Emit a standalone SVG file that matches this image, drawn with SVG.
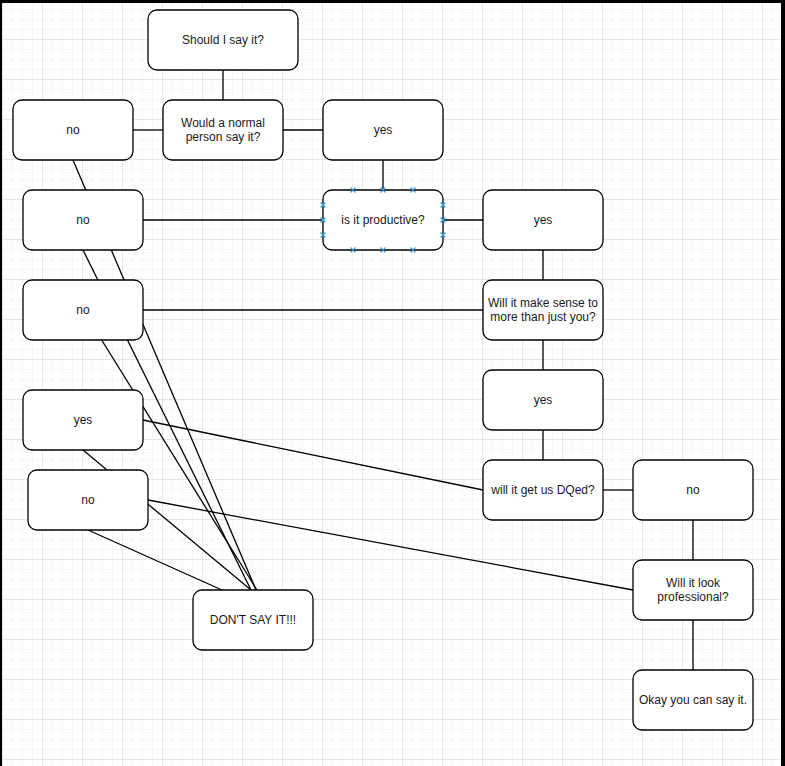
<svg xmlns="http://www.w3.org/2000/svg" width="785" height="766" viewBox="0 0 785 766">
<defs>
<pattern id="grid" x="2" y="39" width="40" height="40" patternUnits="userSpaceOnUse">
<path d="M10.5 0V40M20.5 0V40M30.5 0V40M0 10.5H40M0 20.5H40M0 30.5H40" stroke="#f6f6f6" stroke-width="1" fill="none"/>
<path d="M0.5 0V40M0 0.5H40" stroke="#e6e6e6" stroke-width="1" fill="none"/>
</pattern>
<style>
.n rect{fill:#fff;stroke:#000;stroke-width:1.3}
.n text{font-family:"Liberation Sans",Arial,sans-serif;font-size:12px;fill:#1a1a1a;text-anchor:middle}
.e line{stroke:#000;stroke-width:1.3}
.hx path{stroke:#3aa0dc;stroke-width:1.2;fill:none}
</style>
</defs>
<rect x="0" y="0" width="785" height="766" fill="#fff"/>
<rect x="0" y="0" width="785" height="766" fill="url(#grid)"/>
<g id="connectors" class="e">
<line x1="223" y1="70" x2="223" y2="100"/>
<line x1="133" y1="130" x2="163" y2="130"/>
<line x1="283" y1="130" x2="323" y2="130"/>
<line x1="383" y1="160" x2="383" y2="190"/>
<line x1="143" y1="220" x2="323" y2="220"/>
<line x1="443" y1="220" x2="483" y2="220"/>
<line x1="543" y1="250" x2="543" y2="280"/>
<line x1="143" y1="310" x2="483" y2="310"/>
<line x1="543" y1="340" x2="543" y2="370"/>
<line x1="543" y1="430" x2="543" y2="460"/>
<line x1="603" y1="490" x2="633" y2="490"/>
<line x1="693" y1="520" x2="693" y2="560"/>
<line x1="693" y1="620" x2="693" y2="670"/>
<line x1="143" y1="420" x2="483" y2="490"/>
<line x1="148" y1="500" x2="633" y2="590"/>
<line x1="73" y1="160" x2="256" y2="590"/>
<line x1="83" y1="250" x2="251" y2="590"/>
<line x1="83" y1="310" x2="257" y2="590"/>
<line x1="83" y1="450" x2="251" y2="590"/>
<line x1="88" y1="530" x2="222" y2="590"/>
</g>
<g id="n-should" class="n"><rect x="148" y="10" width="150" height="60" rx="9"/><text x="223" y="44">Should I say it?</text></g>
<g id="n-no1" class="n"><rect x="13" y="100" width="120" height="60" rx="9"/><text x="73" y="134">no</text></g>
<g id="n-normal" class="n"><rect x="163" y="100" width="120" height="60" rx="9"/><text x="223" y="127">Would a normal</text><text x="223" y="141">person say it?</text></g>
<g id="n-yes1" class="n"><rect x="323" y="100" width="120" height="60" rx="9"/><text x="383" y="134">yes</text></g>
<g id="n-no2" class="n"><rect x="23" y="190" width="120" height="60" rx="9"/><text x="83" y="224">no</text></g>
<g id="n-productive" class="n"><rect x="323" y="190" width="120" height="60" rx="9"/><text x="383" y="224">is it productive?</text></g>
<g id="n-yes2" class="n"><rect x="483" y="190" width="120" height="60" rx="9"/><text x="543" y="224">yes</text></g>
<g id="n-no3" class="n"><rect x="23" y="280" width="120" height="60" rx="9"/><text x="83" y="314">no</text></g>
<g id="n-sense" class="n"><rect x="483" y="280" width="120" height="60" rx="9"/><text x="543" y="307">Will it make sense to</text><text x="543" y="321">more than just you?</text></g>
<g id="n-yes3" class="n"><rect x="483" y="370" width="120" height="60" rx="9"/><text x="543" y="404">yes</text></g>
<g id="n-yes4" class="n"><rect x="23" y="390" width="120" height="60" rx="9"/><text x="83" y="424">yes</text></g>
<g id="n-no4" class="n"><rect x="28" y="470" width="120" height="60" rx="9"/><text x="88" y="504">no</text></g>
<g id="n-dq" class="n"><rect x="483" y="460" width="120" height="60" rx="9"/><text x="543" y="494">will it get us DQed?</text></g>
<g id="n-no5" class="n"><rect x="633" y="460" width="120" height="60" rx="9"/><text x="693" y="494">no</text></g>
<g id="n-professional" class="n"><rect x="633" y="560" width="120" height="60" rx="9"/><text x="693" y="587">Will it look</text><text x="693" y="601">professional?</text></g>
<g id="n-dont" class="n"><rect x="193" y="590" width="120" height="60" rx="9"/><text x="253" y="624">DON'T SAY IT!!!</text></g>
<g id="n-okay" class="n"><rect x="633" y="670" width="120" height="60" rx="9"/><text x="693" y="704">Okay you can say it.</text></g>
<g id="hover-points" class="hx">
<path d="M350.5 187.5l5 5M355.5 187.5l-5 5M380.5 187.5l5 5M385.5 187.5l-5 5M410.5 187.5l5 5M415.5 187.5l-5 5"/>
<path d="M350.5 247.5l5 5M355.5 247.5l-5 5M380.5 247.5l5 5M385.5 247.5l-5 5M410.5 247.5l5 5M415.5 247.5l-5 5"/>
<path d="M320.5 202.5l5 5M325.5 202.5l-5 5M320.5 217.5l5 5M325.5 217.5l-5 5M320.5 232.5l5 5M325.5 232.5l-5 5"/>
<path d="M440.5 202.5l5 5M445.5 202.5l-5 5M440.5 217.5l5 5M445.5 217.5l-5 5M440.5 232.5l5 5M445.5 232.5l-5 5"/>
</g>
<rect x="0" y="0" width="785" height="3" fill="#000"/>
<rect x="0" y="0" width="2" height="766" fill="#000"/>
<rect x="781" y="0" width="4" height="766" fill="#000"/>
</svg>
